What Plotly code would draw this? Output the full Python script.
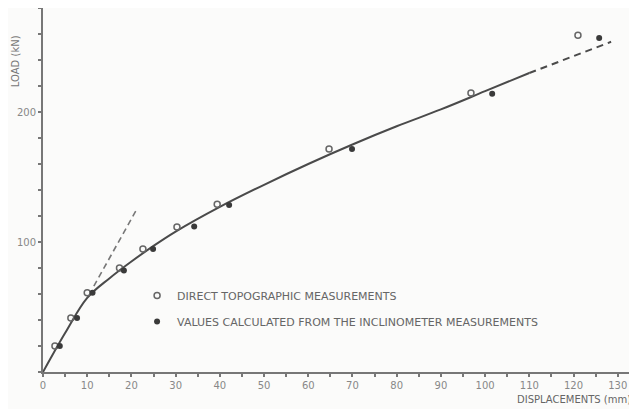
import plotly.graph_objects as go

# Measured points (displacement mm, load kN)
direct_x = [2.7, 6.3, 10.0, 17.3, 22.6, 30.3, 39.4, 64.7, 96.8, 121.0]
direct_y = [20, 41.5, 61, 80, 94.6, 111.5, 129, 171.5, 214.6, 259]
incl_x = [3.8, 7.7, 11.2, 18.3, 24.9, 34.2, 42.1, 69.9, 101.6, 125.8]
incl_y = [20, 41.5, 61, 78, 94.6, 112, 128.5, 171.5, 214, 257]

# Fitted curve (solid), extrapolation (dashed) and initial tangent (dashed)
curve_x = [0, 5, 10, 15, 20, 25, 30, 40, 50, 60, 70, 80, 90, 100, 110]
curve_y = [0, 30, 57, 72, 85, 97, 108, 127, 144, 160, 175, 189, 202, 216, 230]
ext_x = [110, 128.5]
ext_y = [230, 254]
tan_x = [11.5, 21]
tan_y = [66, 124]

x_ticks = [0, 10, 20, 30, 40, 50, 60, 70, 80, 90, 100, 110, 120, 130]
y_ticks = [100, 200]

line_col = "#4a4a4a"
font_fam = "DejaVu Sans"

fig = go.Figure()
fig.add_trace(go.Scatter(x=curve_x, y=curve_y, mode="lines", line=dict(color=line_col, width=2, shape="spline"),
                         showlegend=False, hoverinfo="skip"))
fig.add_trace(go.Scatter(x=ext_x, y=ext_y, mode="lines", line=dict(color=line_col, width=2, dash="7px,5px"),
                         showlegend=False, hoverinfo="skip"))
fig.add_trace(go.Scatter(x=tan_x, y=tan_y, mode="lines", line=dict(color="#777", width=1.6, dash="6px,4px"),
                         showlegend=False, hoverinfo="skip"))
fig.add_trace(go.Scatter(x=direct_x, y=direct_y, mode="markers", name="DIRECT TOPOGRAPHIC MEASUREMENTS",
                         legendgroup="a",
                         marker=dict(symbol="circle-open", size=6, color="#666", line=dict(width=1.5))))
fig.add_trace(go.Scatter(x=incl_x, y=incl_y, mode="markers",
                         name="VALUES CALCULATED FROM THE INCLINOMETER MEASUREMENTS",
                         legendgroup="b",
                         marker=dict(symbol="circle", size=6, color="#3a3a3a")))

fig.update_layout(
    width=629, height=401,
    margin=dict(l=35, r=6, t=0, b=37),
    paper_bgcolor="#fbfbfa", plot_bgcolor="#fbfbfa",
    font=dict(family=font_fam, color="#777", size=10),
    legend=dict(x=0.16, y=0.25, xanchor="left", yanchor="top", bgcolor="rgba(0,0,0,0)",
                font=dict(size=11, color="#666", family=font_fam), tracegroupgap=7,
                itemwidth=30),
    xaxis=dict(range=[0, 133], tickmode="array", tickvals=x_ticks, ticktext=[str(v) for v in x_ticks],
               showgrid=False, zeroline=False, showline=True, linecolor="#777", linewidth=2,
               ticks="outside", ticklen=3, tickwidth=2, tickcolor="#777",
               minor=dict(dtick=5, tick0=0, ticks="outside", ticklen=3, tickwidth=2, tickcolor="#777"),
               tickfont=dict(size=10, color="#888")),
    yaxis=dict(range=[0, 280], tickmode="array", tickvals=y_ticks, ticktext=[str(v) for v in y_ticks],
               showgrid=False, zeroline=False, showline=True, linecolor="#777", linewidth=2,
               ticks="outside", ticklen=3, tickwidth=2, tickcolor="#777",
               minor=dict(dtick=20, tick0=0, ticks="outside", ticklen=3, tickwidth=2, tickcolor="#777"),
               tickfont=dict(size=10, color="#888")),
    annotations=[
        dict(text="LOAD (kN)", xref="paper", yref="paper", x=-0.0476, y=0.854, textangle=-90,
             xanchor="center", yanchor="middle",
             showarrow=False, font=dict(size=10, color="#777", family=font_fam)),
        dict(text="DISPLACEMENTS (mm)", xref="paper", yref="paper", x=1.004, y=-0.075,
             xanchor="right", yanchor="middle",
             showarrow=False, font=dict(size=10, color="#666", family=font_fam)),
    ],
)

fig.write_html("out.html")
